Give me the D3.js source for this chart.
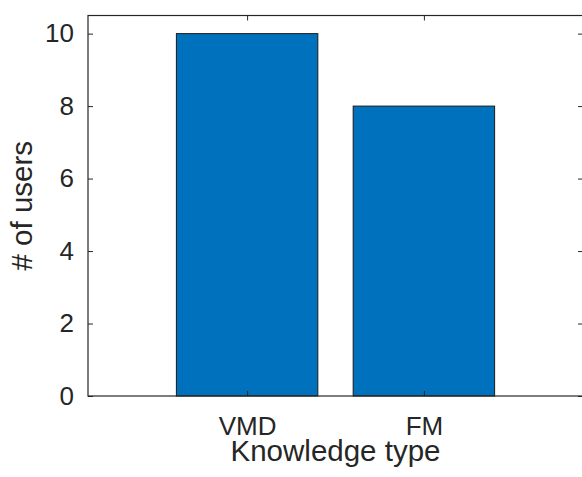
<!DOCTYPE html>
<html>
<head>
<meta charset="utf-8">
<script src="https://cdn.jsdelivr.net/npm/d3@7"></script>
<style>
  html, body { margin: 0; padding: 0; background: #fff; }
  svg { display: block; }
  text { font-family: "Liberation Sans", Arial, Helvetica, sans-serif; fill: #262626; }
</style>
</head>
<body>
<svg id="chart" width="582" height="477"></svg>
<script>
// Number of users per knowledge type
const categories = ["VMD", "FM"];
const users = [10, 8];
const yTicks = [0, 2, 4, 6, 8, 10];

const W = 582, H = 477;
const plot = { left: 88, right: 583, top: 15.5, bottom: 396 };

const svg = d3.select("#chart");

// Category positions 1..n on a numeric axis, padded like a MATLAB bar plot
const x = d3.scaleLinear().domain([0.1, 2.9]).range([plot.left, plot.right]);
const y = d3.scaleLinear().domain([0, 10.5]).range([plot.bottom, plot.top]);
const barWidth = 0.8;

const data = categories.map((c, i) => ({ cat: c, pos: i + 1, value: users[i] }));

// Bars
svg.append("g")
  .selectAll("rect")
  .data(data)
  .join("rect")
  .attr("x", d => x(d.pos - barWidth / 2))
  .attr("width", d => x(d.pos + barWidth / 2) - x(d.pos - barWidth / 2))
  .attr("y", d => y(d.value))
  .attr("height", d => y(0) - y(d.value))
  .attr("fill", "#0072BD")
  .attr("stroke", "#1a1a1a")
  .attr("stroke-width", 1);

const axisColor = "#262626";
const tickLen = 5;

// Axes: ticks pointing inward on all four sides
const gLeft = svg.append("g").attr("transform", `translate(${plot.left},0)`)
  .call(d3.axisLeft(y).tickValues(yTicks).tickSize(-tickLen).tickPadding(14).tickFormat(d3.format("d")));
const gRight = svg.append("g").attr("transform", `translate(${plot.right},0)`)
  .call(d3.axisRight(y).tickValues(yTicks).tickSize(-tickLen).tickFormat(""));
const gBottom = svg.append("g").attr("transform", `translate(0,${plot.bottom})`)
  .call(d3.axisBottom(x).tickValues(data.map(d => d.pos)).tickSize(-tickLen).tickPadding(21)
    .tickFormat((d, i) => categories[i]));
const gTop = svg.append("g").attr("transform", `translate(0,${plot.top})`)
  .call(d3.axisTop(x).tickValues(data.map(d => d.pos)).tickSize(-tickLen).tickFormat(""));

[gLeft, gRight, gBottom, gTop].forEach(g => {
  g.select(".domain").remove();
  g.selectAll(".tick line").attr("stroke", axisColor).attr("stroke-width", 1);
  g.selectAll(".tick text").style("font-size", "26px").attr("fill", axisColor);
});

// Box outline
svg.append("rect")
  .attr("x", plot.left).attr("y", plot.top)
  .attr("width", plot.right - plot.left).attr("height", plot.bottom - plot.top)
  .attr("fill", "none").attr("stroke", axisColor).attr("stroke-width", 1.2);

// Axis labels
svg.append("text")
  .attr("x", (plot.left + plot.right) / 2).attr("y", 461)
  .attr("text-anchor", "middle").style("font-size", "29.5px")
  .text("Knowledge type");

svg.append("text")
  .attr("transform", `translate(31.5,${(plot.top + plot.bottom) / 2}) rotate(-90)`)
  .attr("text-anchor", "middle").style("font-size", "29.5px")
  .text("# of users");
</script>
</body>
</html>
